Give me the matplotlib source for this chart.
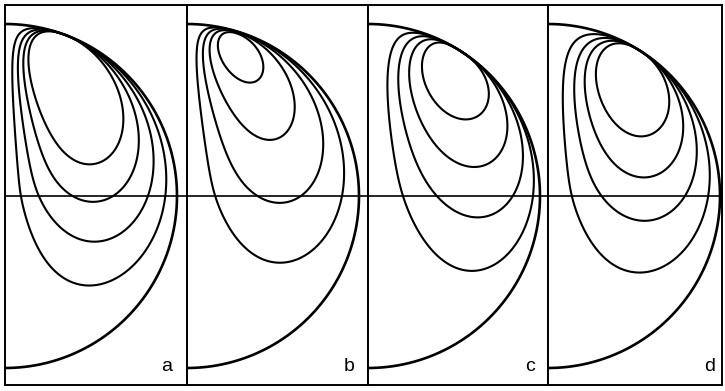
import numpy as np
import matplotlib
matplotlib.use("Agg")
import matplotlib.pyplot as plt

# four streamline panels, half-drop cross sections (axis on the left edge)
labels = ["a", "b", "c", "d"]

axis_exp = [0.50, 0.60, 0.40, 0.40]
wall_exp = [0.40, 0.40, 0.20, 0.30]
core_soft = [0.03, 0.08, 0.03, 0.03]
core_angle = [20, 16, 32, 32]          # degrees from the top pole

# contour values drawn in each panel, outer to inner
levels = [[0.300, 0.425, 0.542, 0.658],
          [0.324, 0.487, 0.677, 0.960],
          [0.535, 0.686, 0.843, 1.061],
          [0.455, 0.615, 0.759, 0.930]]

# panel edges in pixels
edges = [5, 187, 368, 548, 722]
rad = 172


def stream(x, y, a, s, e, ang):
    r = np.sqrt(x * x + y * y)
    cx, cy = np.sin(np.radians(ang)), np.cos(np.radians(ang))
    d2 = (x - cx) ** 2 + (y - cy) ** 2 + e * e
    psi = np.clip(x, 1e-9, None) ** a * np.clip(1 - r, 1e-9, None) ** s / d2 ** ((a + s) / 2)
    psi[r >= 1] = 0
    return psi


fig = plt.figure(figsize=(7.25, 3.91), dpi=100)

xs = np.linspace(0.0005, 1.05, 500)
ys = np.linspace(-1.1, 1.1, 1000)
X, Y = np.meshgrid(xs, ys)
t = np.linspace(0, np.pi, 300)

for i, lab in enumerate(labels):
    x0, x1 = edges[i], edges[i + 1]
    ax = fig.add_axes([x0 / 725, 6 / 391, (x1 - x0) / 725, 380 / 391])
    ax.set_xlim(0, (x1 - x0) / rad)
    ax.set_ylim(-189 / rad, 191 / rad)

    P = stream(X, Y, axis_exp[i], wall_exp[i], core_soft[i], core_angle[i])
    ax.contour(X, Y, P, levels=levels[i], colors="black", linewidths=1.5)
    ax.plot(np.sin(t), np.cos(t), color="black", lw=1.9)
    ax.axhline(0, color="black", lw=1.2)

    ax.set_xticks([])
    ax.set_yticks([])
    for sp in ax.spines.values():
        sp.set_linewidth(1.4)
    ax.text(0.94, -0.99, lab, fontsize=14, family="Liberation Sans",
            ha="center", va="center")

fig.savefig("out.png", dpi=100)
